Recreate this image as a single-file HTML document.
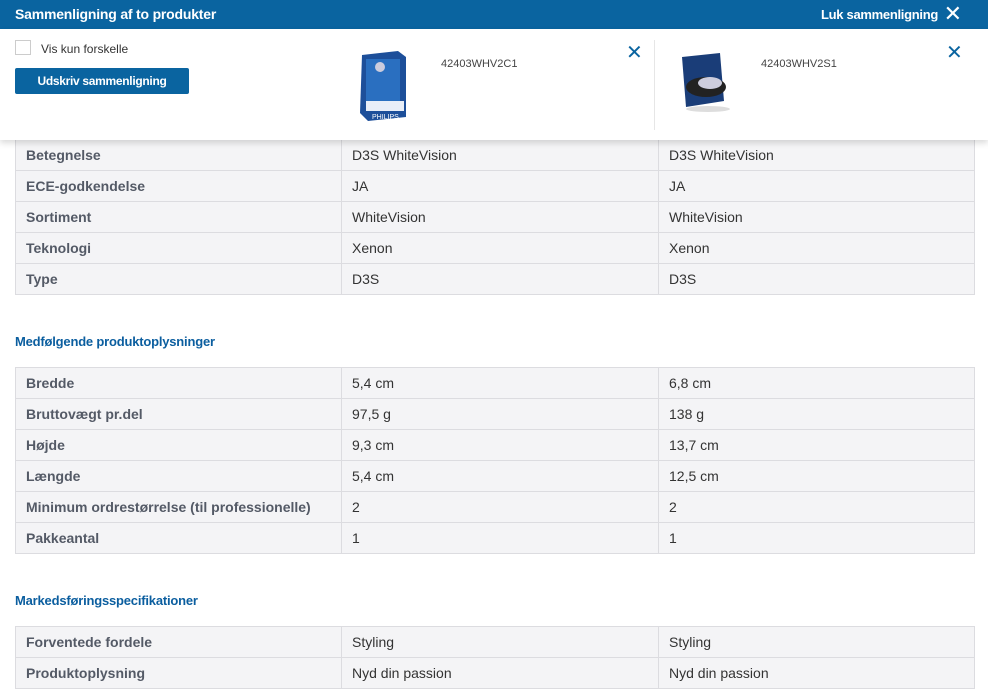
<!DOCTYPE html>
<html><head><meta charset="utf-8"><style>
*{margin:0;padding:0;box-sizing:border-box}
body{width:988px;height:698px;overflow:hidden;background:#fff;font-family:"Liberation Sans",sans-serif;position:relative}
.hdr{position:absolute;left:0;top:0;width:988px;height:29px;background:#0a64a0;color:#fff}
.hdr .t{position:absolute;left:15px;top:6px;font-size:14px;font-weight:bold;letter-spacing:-0.2px}
.hdr .c{position:absolute;right:50px;top:7px;font-size:13px;font-weight:bold;letter-spacing:-0.3px}
.hdr .x{position:absolute;right:26px;top:1px;font-size:22px;font-weight:normal}
.panel{position:absolute;left:0;top:29px;width:988px;height:111px;background:#fff;box-shadow:0 3px 6px rgba(0,0,0,0.15);z-index:2}
.cb{position:absolute;left:15px;top:11px;width:16px;height:15px;border:1px solid #ccc;background:#fff}
.cbl{position:absolute;left:41px;top:13px;font-size:12px;color:#333}
.btn{position:absolute;left:15px;top:39px;width:174px;height:26px;background:#0a64a0;border-radius:2px;color:#fff;font-size:12px;font-weight:bold;text-align:center;line-height:26px;letter-spacing:-0.3px}
.code{position:absolute;top:29px;font-size:11px;color:#444}
.px{position:absolute;top:11px;font-size:20px;color:#0a64a0}
.sep{position:absolute;left:654px;top:11px;width:1px;height:90px;background:#e6e6e6}
table{position:absolute;left:15px;width:960px;border-collapse:collapse;background:#f4f4f6}
td{border:1px solid #dcdce0;height:31px;font-size:14px;padding-left:10px;color:#333;vertical-align:middle}
td:first-child{width:326px;font-weight:bold;color:#545a66}
td:nth-child(2){width:317px}
h3{position:absolute;left:15px;font-size:13px;font-weight:bold;color:#0b5e9f;letter-spacing:-0.2px}
</style></head><body>
<div class="hdr"><div class="t">Sammenligning af to produkter</div><div class="c">Luk sammenligning</div><div class="x">✕</div></div>
<div class="panel">
<div class="cb"></div><div class="cbl">Vis kun forskelle</div>
<div class="btn">Udskriv sammenligning</div>
<svg style="position:absolute;left:358px;top:20px" width="52" height="74"><polygon points="4,6 40,2 48,8 48,68 10,72 2,64" fill="#1d4f9a"/><rect x="8" y="10" width="34" height="44" fill="#2a6fc0"/><circle cx="22" cy="18" r="5" fill="#ccd"/><rect x="8" y="52" width="38" height="10" fill="#e8eef8"/><text x="14" y="70" font-size="7" fill="#fff" font-family="Liberation Sans">PHILIPS</text></svg>
<div class="code" style="left:441px">42403WHV2C1</div>
<div class="px" style="left:626px">✕</div>
<div class="sep"></div>
<svg style="position:absolute;left:678px;top:22px" width="60" height="62"><polygon points="4,6 42,2 46,50 8,56" fill="#1a3d78"/><ellipse cx="28" cy="36" rx="20" ry="10" fill="#222"/><ellipse cx="32" cy="32" rx="12" ry="6" fill="#ccd"/><ellipse cx="30" cy="58" rx="22" ry="3" fill="#ddd"/></svg>
<div class="code" style="left:761px">42403WHV2S1</div>
<div class="px" style="left:946px">✕</div>
</div>
<table style="top:139px">
<tr><td>Betegnelse</td><td>D3S WhiteVision</td><td>D3S WhiteVision</td></tr>
<tr><td>ECE-godkendelse</td><td>JA</td><td>JA</td></tr>
<tr><td>Sortiment</td><td>WhiteVision</td><td>WhiteVision</td></tr>
<tr><td>Teknologi</td><td>Xenon</td><td>Xenon</td></tr>
<tr><td>Type</td><td>D3S</td><td>D3S</td></tr>
</table>
<h3 style="top:334px">Medfølgende produktoplysninger</h3>
<table style="top:367px">
<tr><td>Bredde</td><td>5,4 cm</td><td>6,8 cm</td></tr>
<tr><td>Bruttovægt pr.del</td><td>97,5 g</td><td>138 g</td></tr>
<tr><td>Højde</td><td>9,3 cm</td><td>13,7 cm</td></tr>
<tr><td>Længde</td><td>5,4 cm</td><td>12,5 cm</td></tr>
<tr><td>Minimum ordrestørrelse (til professionelle)</td><td>2</td><td>2</td></tr>
<tr><td>Pakkeantal</td><td>1</td><td>1</td></tr>
</table>
<h3 style="top:593px">Markedsføringsspecifikationer</h3>
<table style="top:626px">
<tr><td>Forventede fordele</td><td>Styling</td><td>Styling</td></tr>
<tr><td>Produktoplysning</td><td>Nyd din passion</td><td>Nyd din passion</td></tr>
</table>
</body></html>
